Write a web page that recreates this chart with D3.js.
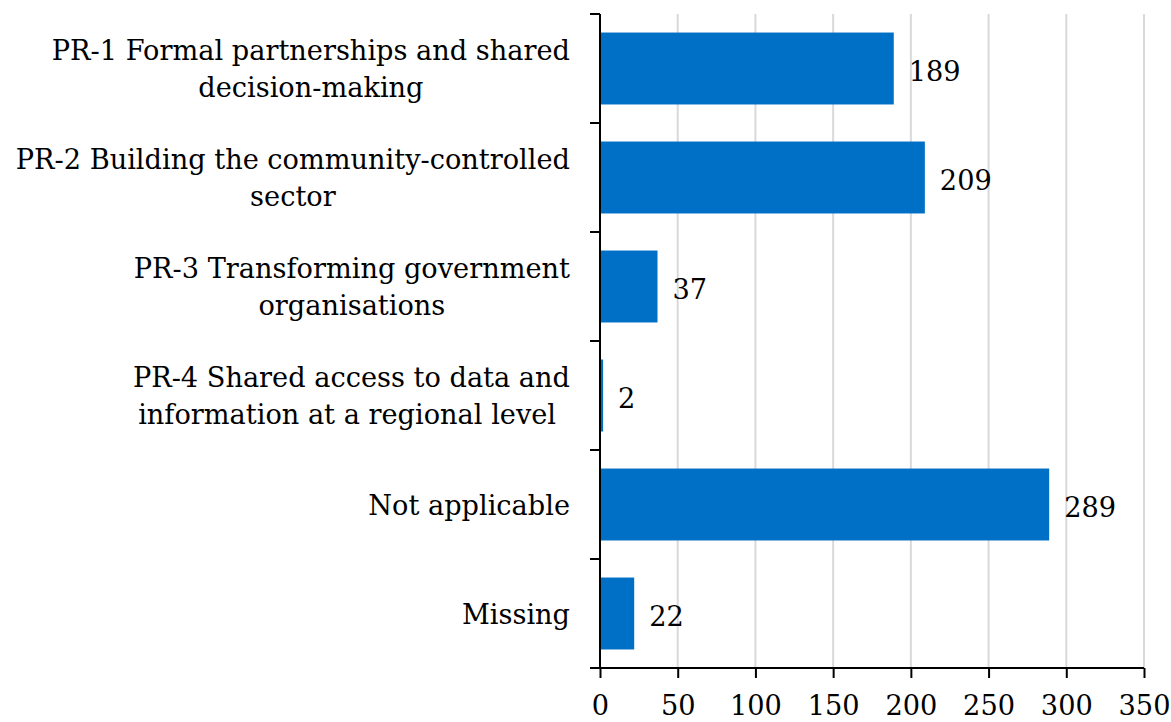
<!DOCTYPE html>
<html>
<head>
<meta charset="utf-8">
<script src="https://cdn.jsdelivr.net/npm/d3@7"></script>
<style>
  html, body { margin: 0; padding: 0; background: #fff; }
  svg { display: block; }
  text { font-family: "DejaVu Serif", "Liberation Serif", serif; fill: #000; }
</style>
</head>
<body>
<svg id="chart" width="1171" height="722"></svg>
<script>
// Category labels (each entry is a list of wrapped lines)
const categories = [
  ["PR-1 Formal partnerships and shared", "decision-making"],
  ["PR-2 Building the community-controlled", "sector"],
  ["PR-3 Transforming government", "organisations"],
  ["PR-4 Shared access to data and", "information at a regional level\u00a0"],
  ["Not applicable"],
  ["Missing"]
];
const counts = [189, 209, 37, 2, 289, 22];
const xTicks = [0, 50, 100, 150, 200, 250, 300, 350];

const svg = d3.select("#chart");
const margin = { left: 600, right: 27, top: 14, bottom: 54 };
const W = 1171, H = 722;
const labelRight = 570;     // right edge of the category label column
const labelColumn = 555;    // width allotted to the longest label line

// Pick a font size so the longest category line fills the label column
const probe = svg.append("text").attr("font-size", 100);
let widest = 0;
categories.flat().forEach(s => {
  probe.text(s.trim());
  widest = Math.max(widest, probe.node().getComputedTextLength());
});
probe.remove();
const fontSize = Math.round(100 * labelColumn / widest * 10) / 10;

const x = d3.scaleLinear().domain([0, 350]).range([margin.left, W - margin.right]);
const y = d3.scaleBand()
  .domain(d3.range(categories.length))
  .range([margin.top, H - margin.bottom])
  .paddingInner(0.34)
  .paddingOuter(0.17);

const plotTop = margin.top, plotBottom = H - margin.bottom;

// Vertical gridlines
svg.append("g")
  .selectAll("line")
  .data(xTicks.filter(d => d > 0))
  .join("line")
  .attr("x1", d => x(d)).attr("x2", d => x(d))
  .attr("y1", plotTop).attr("y2", plotBottom)
  .attr("stroke", "#d9d9d9")
  .attr("stroke-width", 2);

// Bars
svg.append("g")
  .selectAll("rect")
  .data(counts)
  .join("rect")
  .attr("x", x(0))
  .attr("y", (d, i) => y(i))
  .attr("width", d => x(d) - x(0))
  .attr("height", y.bandwidth())
  .attr("fill", "#006fc6");

// Value labels
svg.append("g")
  .selectAll("text")
  .data(counts)
  .join("text")
  .attr("x", d => x(d) + 15)
  .attr("y", (d, i) => y(i) + y.bandwidth() / 2)
  .attr("dy", "0.45em")
  .attr("font-size", fontSize)
  .text(d => d);

// X axis
const xAxis = d3.axisBottom(x)
  .tickValues(xTicks)
  .tickSize(10)
  .tickSizeOuter(0)
  .tickPadding(18);
const gx = svg.append("g")
  .attr("transform", `translate(0,${plotBottom})`)
  .call(xAxis);
gx.select(".domain").remove();
gx.append("line")
  .attr("x1", x(0) - 10).attr("x2", x(350))
  .attr("stroke", "#000").attr("stroke-width", 2);
gx.selectAll(".tick line").attr("stroke", "#000").attr("stroke-width", 2);
gx.selectAll(".tick text")
  .attr("font-size", fontSize)
  .attr("font-family", "DejaVu Serif, serif")
  .attr("fill", "#000");

// Y axis: line with band-boundary ticks
const gy = svg.append("g");
gy.append("line")
  .attr("x1", x(0)).attr("x2", x(0))
  .attr("y1", plotTop).attr("y2", plotBottom)
  .attr("stroke", "#000").attr("stroke-width", 2);
const boundaries = d3.range(categories.length + 1)
  .map(i => plotTop + i * (plotBottom - plotTop) / categories.length);
gy.selectAll("line.tick")
  .data(boundaries)
  .join("line")
  .attr("class", "tick")
  .attr("x1", x(0) - 10).attr("x2", x(0))
  .attr("y1", d => d).attr("y2", d => d)
  .attr("stroke", "#000").attr("stroke-width", 2);

// Category labels: each block is right-aligned, its lines centred within it
const lineH = 37;
const labelG = svg.append("g");
categories.forEach((lines, i) => {
  const t = labelG.append("text")
    .attr("font-size", fontSize)
    .attr("text-anchor", "middle")
    .attr("xml:space", "preserve");
  const yc = y(i) + y.bandwidth() / 2;
  const spans = lines.map((ln, k) => t.append("tspan")
    .attr("y", yc + (k - (lines.length - 1) / 2) * lineH)
    .attr("dy", "0.38em")
    .text(ln));
  const blockW = d3.max(spans, s => s.node().getComputedTextLength());
  spans.forEach(s => s.attr("x", labelRight - blockW / 2));
});
</script>
</body>
</html>
